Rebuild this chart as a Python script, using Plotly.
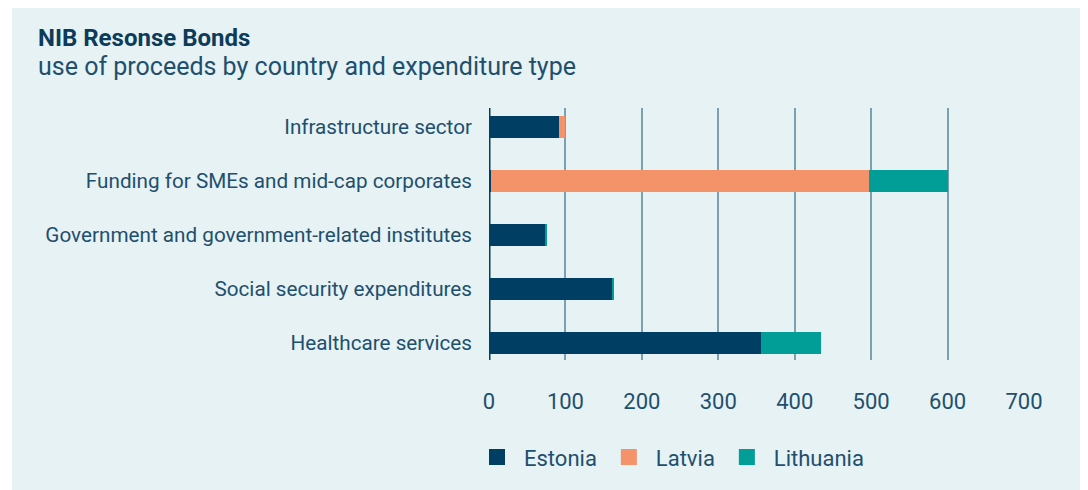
import plotly.graph_objects as go

categories = [
    "Infrastructure sector",
    "Funding for SMEs and mid-cap corporates",
    "Government and government-related institutes",
    "Social security expenditures",
    "Healthcare services",
]
estonia = [92, 3, 74, 161, 356]
latvia = [8, 494, 0, 0, 0]
lithuania = [0, 103, 2, 3, 78]
x_ticks = [0, 100, 200, 300, 400, 500, 600, 700]

BG = "#e6f2f3"
TXT = "#1f4f6e"
colors = {"Estonia": "#003f63", "Latvia": "#f4936a", "Lithuania": "#009e97"}

fig = go.Figure()
for name, vals in [("Estonia", estonia), ("Latvia", latvia), ("Lithuania", lithuania)]:
    fig.add_trace(go.Bar(
        y=categories, x=vals, name=name, orientation="h", legendgroup=name,
        showlegend=False,
        marker=dict(color=colors[name], line=dict(width=0)),
    ))
for name in ["Estonia", "Latvia", "Lithuania"]:
    fig.add_trace(go.Scatter(
        x=[None], y=[None], mode="markers", name=name, legendgroup=name,
        marker=dict(symbol="square", size=18, color=colors[name], line=dict(width=0)),
    ))

# the page body has an 8px margin; work in figure pixels = screen - 8
OFF = 8
W, H = 1088 - OFF, 490 - OFF
L, R, T, B = 489 - OFF, 1024 - OFF, 108 - OFF, 362 - OFF
pw, ph = R - L, B - T

def px(xs):
    return (xs - OFF - L) / pw

def py(ys):
    return (B - (ys - OFF)) / ph

fig.update_layout(
    width=W, height=H,
    barmode="stack",
    bargap=0.6,
    paper_bgcolor="white",
    plot_bgcolor=BG,
    margin=dict(l=L, r=W - R, t=T, b=H - B, pad=0),
    font=dict(family="Roboto, sans-serif", color=TXT, size=20),
    showlegend=True,
    legend=dict(
        orientation="h", x=px(470), y=py(460), xanchor="left", yanchor="middle",
        font=dict(size=22, color=TXT), bgcolor="rgba(0,0,0,0)",
        itemwidth=44, traceorder="normal",
    ),
    xaxis=dict(
        range=[0, 700], tickvals=x_ticks, showgrid=True, gridcolor="#7aa0b2",
        gridwidth=2, zeroline=False, showline=False,
        ticks="outside", ticklen=22, tickcolor="rgba(0,0,0,0)",
        tickfont=dict(size=22, color=TXT),
    ),
    yaxis=dict(
        categoryorder="array", categoryarray=categories, autorange=False,
        range=[4.31, -0.35], showgrid=False, zeroline=False, showline=False,
        ticks="", ticklabelstandoff=16, tickfont=dict(size=20.7, color=TXT),
    ),
    shapes=[
        dict(type="rect", xref="paper", yref="paper", x0=px(12), x1=px(1100),
             y0=py(0), y1=py(500), fillcolor=BG, line=dict(width=0), layer="below"),
        dict(type="line", xref="x", yref="paper", x0=0, x1=0, y0=0, y1=1,
             line=dict(color="#003f63", width=3), layer="above"),
    ],
    annotations=[
        dict(text="<b>NIB Resonse Bonds</b>", xref="paper", yref="paper",
             x=px(36), y=py(37), xanchor="left", yanchor="middle", showarrow=False,
             font=dict(size=24, color="#0d3b5a")),
        dict(text="use of proceeds by country and expenditure type", xref="paper", yref="paper",
             x=px(36), y=py(66), xanchor="left", yanchor="middle", showarrow=False,
             font=dict(size=25, color=TXT)),
    ],
)

fig.write_html("out.html")
